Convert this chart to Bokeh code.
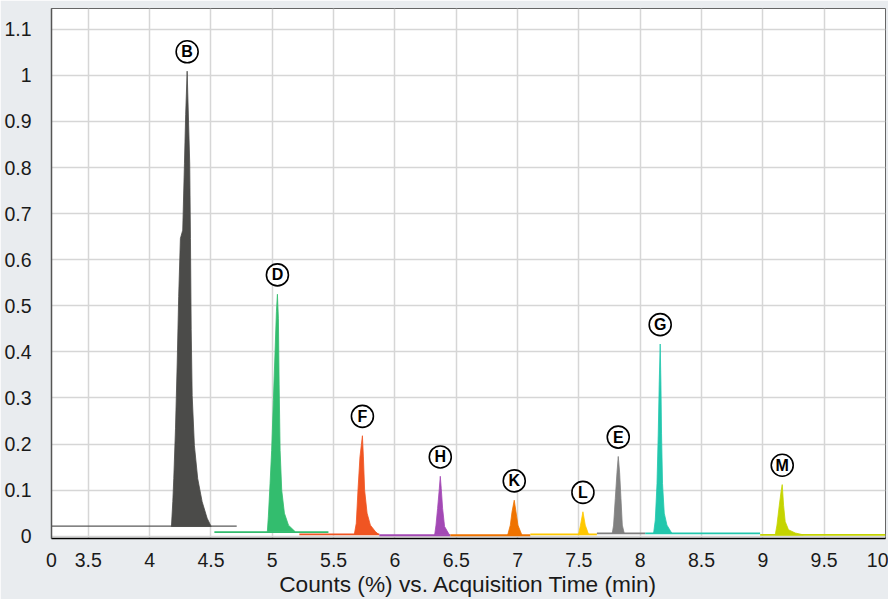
from bokeh.plotting import figure
from bokeh.models import FixedTicker, ColumnDataSource, Range1d
from bokeh.core.properties import value
from bokeh.embed import file_html
from bokeh.resources import INLINE

# ---- data ----
x_ticks = [3.2, 3.5, 4, 4.5, 5, 5.5, 6, 6.5, 7, 7.5, 8, 8.5, 9, 9.5, 10]
x_tick_labels = ["0", "3.5", "4", "4.5", "5", "5.5", "6", "6.5", "7", "7.5", "8", "8.5", "9", "9.5", "10"]
y_ticks = [0, 0.1, 0.2, 0.3, 0.4, 0.5, 0.6, 0.7, 0.8, 0.9, 1.0, 1.1]
y_tick_labels = ["0", "0.1", "0.2", "0.3", "0.4", "0.5", "0.6", "0.7", "0.8", "0.9", "1", "1.1"]

names = ["B", "D", "F", "H", "K", "L", "E", "G", "M"]
colors = ["#4b4b49", "#33bd6e", "#f05522", "#a349b5", "#ef7300", "#ffc800", "#808080", "#22c7ad", "#c5d400"]

B_t = [4.178, 4.189, 4.197, 4.211, 4.225, 4.237, 4.251, 4.270, 4.284, 4.294, 4.306,
       4.327, 4.333, 4.339, 4.347, 4.365, 4.392, 4.428, 4.469, 4.502]
B_y = [0.021, 0.075, 0.125, 0.233, 0.376, 0.520, 0.646, 0.664, 0.808, 0.915, 1.009,
       0.808, 0.646, 0.448, 0.305, 0.197, 0.125, 0.075, 0.039, 0.021]
D_t = [4.960, 4.968, 4.982, 4.995, 5.009, 5.023, 5.034, 5.042,
       5.050, 5.056, 5.064, 5.077, 5.099, 5.132, 5.186]
D_y = [0.010, 0.042, 0.114, 0.186, 0.294, 0.402, 0.488, 0.525,
       0.473, 0.330, 0.186, 0.100, 0.050, 0.024, 0.010]
F_t = [5.669, 5.685, 5.699, 5.715, 5.735, 5.743, 5.753, 5.773, 5.800, 5.841, 5.867]
F_y = [0.004, 0.028, 0.100, 0.172, 0.218, 0.172, 0.100, 0.050, 0.024, 0.010, 0.004]
H_t = [6.324, 6.335, 6.348, 6.362, 6.370, 6.378, 6.389, 6.405, 6.444]
H_y = [0.003, 0.024, 0.060, 0.103, 0.130, 0.103, 0.060, 0.021, 0.003]
K_t = [6.919, 6.941, 6.955, 6.973, 6.987, 7.003, 7.036]
K_y = [0.002, 0.024, 0.053, 0.078, 0.053, 0.024, 0.002]
L_t = [7.497, 7.513, 7.533, 7.552, 7.579]
L_y = [0.004, 0.024, 0.053, 0.024, 0.004]
E_t = [7.772, 7.783, 7.797, 7.811, 7.821, 7.832, 7.843, 7.854, 7.870]
E_y = [0.006, 0.024, 0.082, 0.139, 0.173, 0.139, 0.082, 0.024, 0.006]
G_t = [8.109, 8.123, 8.137, 8.147, 8.155, 8.163, 8.169, 8.174, 8.182, 8.196, 8.218, 8.259]
G_y = [0.006, 0.035, 0.114, 0.222, 0.330, 0.417, 0.330, 0.222, 0.114, 0.050, 0.024, 0.006]
M_t = [9.101, 9.115, 9.134, 9.148, 9.158, 9.169, 9.182, 9.209, 9.264, 9.329]
M_y = [0.003, 0.024, 0.067, 0.096, 0.112, 0.067, 0.032, 0.014, 0.007, 0.003]

peak_t = [B_t, D_t, F_t, H_t, K_t, L_t, E_t, G_t, M_t]
peak_y = [B_y, D_y, F_y, H_y, K_y, L_y, E_y, G_y, M_y]

base_start = [3.2, 4.528, 5.221, 5.873, 6.452, 7.104, 7.647, 8.041, 8.978]
base_end = [4.71, 5.458, 5.873, 6.452, 7.104, 7.647, 8.041, 8.978, 10.0]
base_level = [0.022, 0.009, 0.004, 0.002, 0.002, 0.004, 0.006, 0.006, 0.003]

FONT = "Liberation Sans"
BG = "#e9ecef"

p = figure(width=888, height=599, output_backend="svg", toolbar_location=None,
           x_range=Range1d(3.2, 10.0), y_range=Range1d(-0.005, 1.145),
           min_border_left=51, min_border_right=3, min_border_top=8, min_border_bottom=59)
p.background_fill_color = "white"
p.border_fill_color = BG
p.outline_line_color = "#666666"
p.outline_line_width = 1

# grid
p.xgrid.ticker = FixedTicker(ticks=x_ticks[1:-1])
p.ygrid.ticker = FixedTicker(ticks=y_ticks)
for g in (p.xgrid, p.ygrid):
    g.grid_line_color = "#d6d6d6"
    g.grid_line_width = 1.5

# axes
p.xaxis.ticker = FixedTicker(ticks=x_ticks)
p.xaxis.major_label_overrides = {t: l for t, l in zip(x_ticks, x_tick_labels)}
p.yaxis.ticker = FixedTicker(ticks=y_ticks)
p.yaxis.major_label_overrides = {t: l for t, l in zip(y_ticks, y_tick_labels)}
for ax in (p.xaxis, p.yaxis):
    ax.major_tick_line_color = None
    ax.minor_tick_line_color = None
    ax.major_label_text_font = FONT
    ax.major_label_text_font_size = "19.5px"
    ax.major_label_text_color = "#1a1a1a"
p.xaxis.axis_line_color = "black"
p.xaxis.axis_line_width = 1.5
p.yaxis.axis_line_color = "#555555"
p.yaxis.axis_line_width = 1.5
p.xaxis.major_label_standoff = 8
p.yaxis.major_label_standoff = 14
p.xaxis.axis_label = "Counts (%) vs. Acquisition Time (min)"
p.xaxis.axis_label_text_font = FONT
p.xaxis.axis_label_text_font_size = "22.7px"
p.xaxis.axis_label_text_font_style = "normal"
p.xaxis.axis_label_text_color = "#1a1a1a"
p.xaxis.axis_label_standoff = 1

# baselines and peaks
for i, nm in enumerate(names):
    c = colors[i]
    lw = 1.2 if nm == "B" else 1.8
    lc = "#5a5a5a" if nm == "B" else c
    p.line([base_start[i], base_end[i]], [base_level[i], base_level[i]], line_color=lc, line_width=lw)
    p.patch(peak_t[i], peak_y[i], fill_color=c, line_color=c, line_width=0.8)

# circled labels above peaks
lab_x = []
lab_y = []
for t, y in zip(peak_t, peak_y):
    k = y.index(max(y))
    lab_x.append(t[k])
    lab_y.append(max(y) + 0.042)
src = ColumnDataSource(dict(x=lab_x, y=lab_y, name=names))
p.scatter("x", "y", source=src, marker="circle", size=22, fill_color="white",
          line_color="black", line_width=1.6)
p.text("x", "y", text="name", source=src, text_align="center", text_baseline="middle",
       text_font=value(FONT), text_font_style="bold", text_font_size="16px", text_color="black")

html = file_html(p, INLINE)
html = html.replace("<body>", '<body style="background:%s">' % BG, 1)
open("out.html", "w").write(html)
